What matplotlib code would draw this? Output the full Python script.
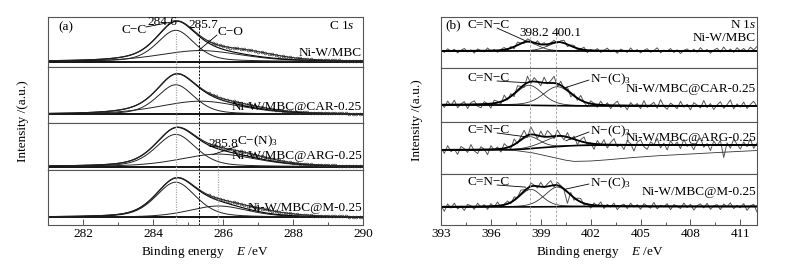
import numpy as np
import matplotlib
matplotlib.use("Agg")
import matplotlib.pyplot as plt
from matplotlib.ticker import MultipleLocator

plt.rcParams['font.family'] = ['Liberation Serif', 'DejaVu Serif']
plt.rcParams['mathtext.fontset'] = 'custom'
plt.rcParams['mathtext.rm'] = 'Liberation Serif'
plt.rcParams['mathtext.it'] = 'Liberation Serif:italic'

# ---------------- data ----------------
sample_labels = ["Ni-W/MBC", "Ni-W/MBC@CAR-0.25", "Ni-W/MBC@ARG-0.25", "Ni-W/MBC@M-0.25"]

# C 1s fitted components (normalised intensity)
c1s_cc_center = [284.65, 284.65, 284.65, 284.65]
c1s_cc_height = [0.77, 0.72, 0.82, 0.90]
c1s_cc_fwhm = [1.25, 1.25, 1.35, 1.35]
c1s_b_center = [285.35, 285.35, 285.87, 285.87]   # C-O (top two) / C-(N)3 (bottom two)
c1s_b_height = [0.27, 0.32, 0.32, 0.29]
c1s_b_fwhm = [2.8, 2.8, 2.6, 2.0]
c1s_tail_center = [286.8, 286.5, 286.6, 286.9]
c1s_tail_height = [0.12, 0.05, 0.08, 0.09]
c1s_tail_fwhm = [2.0, 2.0, 2.0, 2.2]
c1s_peak_labels = ["284.6", "285.7", "285.8"]

# N 1s fitted components (a.u.)
n1s_a_center = [398.2, 398.3, 398.3, 398.4]   # C=N-C
n1s_a_height = [9.0, 20.0, 12.0, 17.5]
n1s_a_fwhm = [1.5, 1.9, 1.5, 1.6]
n1s_b_center = [400.1, 400.0, 400.1, 400.0]   # N-(C)3
n1s_b_height = [8.5, 19.0, 10.0, 19.5]
n1s_b_fwhm = [1.6, 2.0, 2.2, 1.8]
n1s_bg_left = [0.0, 0.0, 0.0, 0.0]
n1s_bg_right = [0.0, -1.0, 5.0, 0.5]
n1s_peak_labels = ["398.2", "400.1"]

n1s_noise_1 = [0.8, -1.5, 2.1, -0.4, 1.6, -2.0, 0.5, 2.4, -1.1, 0.9,
               -2.3, 1.8, 0.2, -1.2, 2.7, -0.6, 1.1, -1.9, 0.7, 2.2,
               -0.9, 1.5, -2.1, 3.0, 0.4, -1.3, 2.6, 1.2, -1.6, 2.9,
               -0.5, 1.9, -1.8, 0.6, 2.3, -1.0, 1.4, 2.8, -2.2, 0.9,
               1.7, -1.4, 0.3, 2.5, -2.4, 1.0, -0.7, 2.0, -1.7, 0.4,
               2.6, -1.1, 0.8, -2.5, 1.6, 0.1, -1.5, 2.9, -0.8, 1.3,
               -2.0, 0.7, 2.2, -1.3, 0.5, 3.1, -1.9, 0.9, -0.3, 2.4,
               -1.6, 1.2, -2.6, 0.6, 2.0, -0.9, 1.8, -1.2, 3.3, -0.4,
               1.5, -2.2, 0.8, 2.7, -1.0, 4.0, -0.6, 1.9, -1.4, 3.2,
               0.2, 2.5, -0.8, 3.8, 1.1, 4.4]
n1s_noise_2 = [1.5, -2.8, 3.6, -1.0, 4.4, -3.2, 0.6, 2.9, -4.1, 1.8,
               3.5, -2.0, -3.6, 2.4, 0.3, -4.5, 3.1, 1.2, -2.4, 5.2,
               -1.4, 2.6, -3.0, 4.8, 1.0, -2.6, 6.5, -1.8, 3.9, 0.5,
               -3.3, 5.6, -0.8, 2.2, 6.8, -2.9, 4.0, -1.5, 3.3, -3.8,
               1.9, -2.2, 4.6, -0.6, -3.9, 2.8, 0.9, -2.7, 3.7, -1.2,
               2.4, -3.4, 1.1, 4.2, -2.0, 0.4, -4.2, 3.0, -0.9, 2.1,
               -3.1, 5.0, -1.6, 0.8, 3.4, -2.5, 6.2, -0.4, -3.5, 2.7,
               0.2, -2.9, 4.5, -1.3, 1.6, -4.0, 3.2, 0.7, -2.1, 5.4,
               -1.7, 2.3, -3.6, 0.9, 4.1, -2.4, 1.3, 6.0, -3.0, 2.0,
               -1.1, 3.8, -2.6, 1.5, 4.7, -0.5]
n1s_noise_3 = [2.0, -3.5, 4.2, -1.8, 0.6, -4.6, 3.3, 1.0, -2.7, 5.1,
               -1.2, -4.0, 2.8, 0.4, -5.2, 3.7, -0.9, 2.1, -3.3, 4.6,
               0.8, -2.4, 5.5, -1.5, 3.0, 6.8, -2.0, 7.5, 1.6, -3.1,
               4.9, -0.7, 6.1, 2.4, -2.6, 5.8, 0.3, -3.8, 4.4, -1.6,
               2.9, -4.3, 1.5, 5.2, -2.9, 0.7, -5.5, 3.6, -1.0, 4.8,
               -3.4, 2.2, 6.0, -2.1, 0.5, -4.7, 3.9, 1.3, -6.2, 2.6,
               5.3, -1.9, -4.4, 3.1, 0.2, 6.4, -3.0, 1.8, -5.0, 4.1,
               -0.6, 2.7, -3.7, 5.6, -1.4, 0.9, -4.8, 3.4, 7.0, -2.3,
               1.4, -5.6, 3.8, -0.8, 4.5, -12.5, 2.1, -3.2, 5.9, 0.6,
               -4.1, 3.0, -1.7, 6.3, -3.4, 1.9]
n1s_noise_4 = [1.2, -4.5, 2.8, -1.4, 3.6, -2.3, 0.5, -3.8, 2.2, 0.9,
               -2.8, 3.3, -0.7, 1.7, -3.1, 2.5, -1.0, 3.8, -2.0, 0.6,
               2.7, -1.6, 3.2, -0.4, 4.1, 1.3, -2.2, 3.5, 0.8, -1.7,
               4.3, -0.9, 2.6, 5.0, -2.0, 3.1, 1.1, -1.3, -11.5, 2.4,
               -2.5, 1.9, 3.4, -1.8, 0.7, -3.3, 2.3, -0.6, 3.7, -2.7,
               1.5, -1.1, 2.9, -3.6, 0.4, 2.0, -2.4, 3.0, -0.8, 1.6,
               -3.0, 2.6, 0.3, -1.9, 3.9, -2.6, 1.0, -0.5, 2.7, -3.4,
               1.8, 0.2, -2.1, 3.3, -1.2, 2.1, -3.7, 0.8, 2.5, -1.5,
               3.1, -2.9, 0.6, 1.9, -3.2, 2.4, -0.3, 3.6, -2.2, 1.1,
               -1.4, 2.8, -3.9, 0.5, 2.2, -5.5]
n1s_noise = [n1s_noise_1, n1s_noise_2, n1s_noise_3, n1s_noise_4]
n1s_step = 0.2

# extra background curve drawn in the ARG N 1s panel
arg_dip_energy = [396.8, 397.5, 398.5, 399.5, 400.5, 401.0, 402.0, 403.0, 404.5, 406.0, 408.0, 410.0, 412.0]
arg_dip_value = [0.0, -0.6, -2.8, -6.5, -10.2, -11.4, -11.0, -9.8, -7.6, -5.8, -4.0, -2.2, -0.5]

# ---------------- layout ----------------
W, H = 794, 267
fig = plt.figure(figsize=(W / 100, H / 100), dpi=100)


def fx(p):
    return p / W


def fy(p):
    return 1 - p / H


def pv(x, c, h, w, eta=0.4):
    d2 = ((x - c) / w) ** 2
    return h * (eta / (1 + 4 * d2) + (1 - eta) * np.exp(-4 * np.log(2) * d2))


FS = 9.5
FRAME = '#555555'
left_x = (48, 363)
left_b = [16.7, 67.3, 122.7, 170.3, 225]
right_x = (441, 757)
right_b = [16.7, 68.3, 121.7, 174, 225]
# (baseline pixel, peak pixel) for C 1s panels
c_base = [(61.5, 21.0), (114.3, 73.3), (166.7, 127.3), (217.3, 178.3)]
n_base = [51.0, 105.0, 150.0, 207.0]
c_name_y = [53, 107, 156, 208]


def make_ax(xr, t, b):
    ax = fig.add_axes([fx(xr[0]), fy(b), (xr[1] - xr[0]) / W, (b - t) / H])
    for s in ax.spines.values():
        s.set_color(FRAME)
        s.set_linewidth(0.8)
    ax.set_yticks([])
    return ax


# ---------------- C 1s ----------------
xc = np.arange(281.0, 290.001, 0.02)
xr_c = np.arange(281.0, 290.001, 0.1)
c_axes = []
for i in range(4):
    t, b = left_b[i], left_b[i + 1]
    ax = make_ax(left_x, t, b)
    yb, yp = c_base[i]
    s = yb - yp
    ax.set_xlim(281, 290)
    ax.set_ylim(-(b - yb) / s, (yb - t) / s)
    cc = pv(xc, c1s_cc_center[i], c1s_cc_height[i], c1s_cc_fwhm[i])
    bb = pv(xc, c1s_b_center[i], c1s_b_height[i], c1s_b_fwhm[i])
    env = cc + bb
    raw = pv(xr_c, c1s_cc_center[i], c1s_cc_height[i], c1s_cc_fwhm[i]) + \
        pv(xr_c, c1s_b_center[i], c1s_b_height[i], c1s_b_fwhm[i]) + \
        pv(xr_c, c1s_tail_center[i], c1s_tail_height[i], c1s_tail_fwhm[i])
    ax.plot(xc, np.zeros_like(xc), color='k', lw=1.3)
    ax.plot(xc, cc, color='#222222', lw=0.7)
    ax.plot(xc, bb, color='#222222', lw=0.7)
    ax.plot(xc, env, color='k', lw=0.8)
    ax.plot(xr_c, raw, color='#222222', lw=0.8)
    tail = xr_c >= 285.6
    ax.plot(xr_c[tail], raw[tail], ls='none', color='#333333', marker='o', ms=2.0, mfc='none', mew=0.45)
    # reference lines
    ax.axvline(284.65, ymax=0.70 if i == 0 else 1.0, color='#aaaaaa', lw=0.9, ls=(0, (1, 1)))
    ax.axvline(285.32, ymax=0.875 if i == 0 else 1.0, color='k', lw=0.7, ls=(0, (2, 1.5)))
    if i == 2:
        ax.axvline(285.87, ymax=0.47, color='#aaaaaa', lw=0.9, ls=(0, (1, 1)))
    if i == 3:
        ax.axvline(285.87, color='#aaaaaa', lw=0.9, ls=(0, (1, 1)))
    ax.text(0.997, (b - c_name_y[i]) / (b - t), sample_labels[i],
            transform=ax.transAxes, ha='right', va='center', fontsize=FS)
    if i < 3:
        ax.set_xticks([])
    c_axes.append(ax)

axb = c_axes[-1]
axb.xaxis.set_major_locator(MultipleLocator(2))
axb.xaxis.set_minor_locator(MultipleLocator(1))
axb.tick_params(axis='x', which='both', direction='in', colors=FRAME, labelcolor='k', labelsize=FS, pad=2)
axb.tick_params(axis='x', which='major', length=4, width=0.7)
axb.tick_params(axis='x', which='minor', length=2.5, width=0.7)

# C 1s annotations
fig.text(fx(58), fy(27), "(a)", ha='left', va='center', fontsize=FS)
fig.text(fx(355), fy(26), "C 1$s$", ha='right', va='center', fontsize=FS)
fig.text(fx(147), fy(30), "C−C", ha='right', va='center', fontsize=FS)
fig.text(fx(147), fy(22), c1s_peak_labels[0], ha='left', va='center', fontsize=FS)
fig.text(fx(188), fy(25), c1s_peak_labels[1], ha='left', va='center', fontsize=FS)
fig.text(fx(217), fy(32), "C−O", ha='left', va='center', fontsize=FS)
fig.text(fx(208), fy(144), c1s_peak_labels[2], ha='left', va='center', fontsize=FS)
fig.text(fx(237), fy(141), "C−(N)$_3$", ha='left', va='center', fontsize=FS)
lp = dict(arrowstyle='-', lw=0.6, color='k', shrinkA=0, shrinkB=0)
c_axes[0].annotate('', xy=(284.5, c1s_cc_height[0] + 0.2), xycoords='data',
                   xytext=(fx(146), fy(27)), textcoords='figure fraction', arrowprops=lp, annotation_clip=False)
c_axes[0].annotate('', xy=(285.3, c1s_b_height[0]), xycoords='data',
                   xytext=(fx(217), fy(35)), textcoords='figure fraction', arrowprops=lp, annotation_clip=False)
c_axes[2].annotate('', xy=(285.7, c1s_b_height[2] * 0.95), xycoords='data',
                   xytext=(fx(238), fy(146)), textcoords='figure fraction', arrowprops=lp, annotation_clip=False)

# ---------------- N 1s ----------------
xn = np.arange(393.0, 412.001, 0.02)
n_axes = []
for i in range(4):
    t, b = right_b[i], right_b[i + 1]
    ax = make_ax(right_x, t, b)
    yb = n_base[i]
    ax.set_xlim(393, 412)
    ax.set_ylim(-(b - yb), yb - t)
    noise = np.array(n1s_noise[i])
    xe = 393.0 + n1s_step * np.arange(len(noise))

    def model(x):
        a = pv(x, n1s_a_center[i], n1s_a_height[i], n1s_a_fwhm[i], 0.3)
        bcomp = pv(x, n1s_b_center[i], n1s_b_height[i], n1s_b_fwhm[i], 0.3)
        tot = a + bcomp
        shirley = n1s_bg_left[i] + (n1s_bg_right[i] - n1s_bg_left[i]) * np.cumsum(tot) / np.sum(tot)
        return a, bcomp, shirley

    a, bcomp, bg = model(xn)
    ar, br, bgr = model(xe)
    raw = ar + br + bgr + noise
    ax.plot(xe, raw, color='#555555', lw=0.7)
    ax.plot(xn, a + bg, color='#333333', lw=0.6)
    ax.plot(xn, bcomp + bg, color='#333333', lw=0.6)
    ax.plot(xn, bg, color='k', lw=1.2)
    ax.plot(xn, a + bcomp + bg, color='k', lw=1.3)
    if i == 2:
        ax.plot(arg_dip_energy, arg_dip_value, color='#333333', lw=0.6)
    frac = 0.61 if i == 0 else 1.0
    for e in (398.35, 399.9):
        ax.axvline(e, ymax=frac, color='#999999', lw=0.6, ls=(0, (3, 2)))
    if i < 3:
        ax.set_xticks([])
    n_axes.append(ax)

axn = n_axes[-1]
axn.set_xticks([393, 396, 399, 402, 405, 408, 411])
axn.xaxis.set_minor_locator(MultipleLocator(1.5))
axn.tick_params(axis='x', which='both', direction='in', colors=FRAME, labelcolor='k', labelsize=FS, pad=2)
axn.tick_params(axis='x', which='major', length=4, width=0.7)
axn.tick_params(axis='x', which='minor', length=2.5, width=0.7)

fig.text(fx(445), fy(25), "(b)", ha='left', va='center', fontsize=FS)
fig.text(fx(756), fy(25), "N 1$s$", ha='right', va='center', fontsize=FS)
fig.text(fx(756), fy(38), sample_labels[0], ha='right', va='center', fontsize=FS)
fig.text(fx(519), fy(33), n1s_peak_labels[0], ha='left', va='center', fontsize=FS)
fig.text(fx(552), fy(33), n1s_peak_labels[1], ha='left', va='center', fontsize=FS)
name_y = [None, 89, 138, 192]
cnc_y = [25, 78, 130, 182]
for i in range(4):
    fig.text(fx(467), fy(cnc_y[i]), "C=N−C", ha='left', va='center', fontsize=FS)
    if i > 0:
        fig.text(fx(756), fy(name_y[i]), sample_labels[i], ha='right', va='center', fontsize=FS)
        fig.text(fx(590), fy(cnc_y[i] + 1), "N−(C)$_3$", ha='left', va='center', fontsize=FS)
for i in range(4):
    ax = n_axes[i]
    ya = n1s_a_height[i] + 0.6 * n1s_b_height[i] * 0.2
    ax.annotate('', xy=(398.1, ya), xycoords='data',
                xytext=(fx(497), fy(cnc_y[i] + 3)), textcoords='figure fraction', arrowprops=lp, annotation_clip=False)
    if i > 0:
        ax.annotate('', xy=(400.5, n1s_b_height[i] * 0.92), xycoords='data',
                    xytext=(fx(589), fy(cnc_y[i] + 2)), textcoords='figure fraction', arrowprops=lp, annotation_clip=False)

# axis labels
fig.text(fx(205), fy(252), "Binding energy    $E$ /eV", ha='center', va='center', fontsize=FS)
fig.text(fx(600), fy(252), "Binding energy    $E$ /eV", ha='center', va='center', fontsize=FS)
fig.text(fx(23), fy(121), "Intensity /(a.u.)", rotation=90, ha='center', va='center', fontsize=FS)
fig.text(fx(417), fy(120), "Intensity /(a.u.)", rotation=90, ha='center', va='center', fontsize=FS)

fig.savefig("out.png", dpi=100)
